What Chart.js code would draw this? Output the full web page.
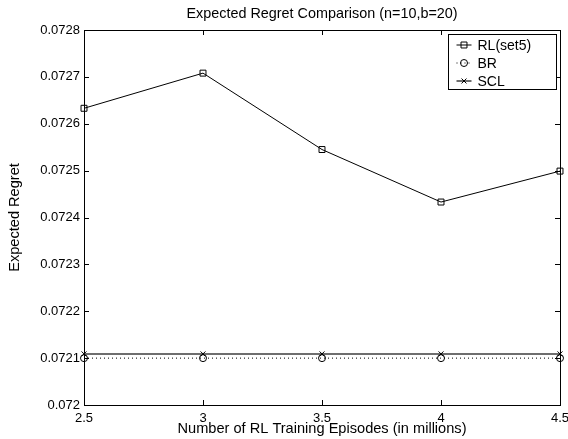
<!DOCTYPE html>
<html>
<head>
<meta charset="utf-8">
<script src="https://cdn.jsdelivr.net/npm/chart.js@4/dist/chart.umd.min.js"></script>
<style>
  html, body { margin: 0; padding: 0; background: #fff; }
  #chart { display: block; }
</style>
</head>
<body>
<canvas id="chart" width="568" height="439"></canvas>
<script>
// Data
const episodes = [2.5, 3, 3.5, 4, 4.5];
const rlSet5 = [0.072633, 0.072708, 0.072545, 0.072433, 0.072499];
const brValues = [0.07210, 0.07210, 0.07210, 0.07210, 0.07210];
const sclValues = [0.072109, 0.072109, 0.072109, 0.072109, 0.072109];
const seriesLabels = ['RL(set5)', 'BR', 'SCL'];

const FONT = '"Liberation Sans", Arial, Helvetica, sans-serif';

function toPoints(values) {
  return episodes.map((x, i) => ({ x: x, y: values[i] }));
}

// Title centred over the plot area
const titlePlugin = {
  id: 'plotTitle',
  afterDraw(chart) {
    const { ctx, chartArea } = chart;
    ctx.save();
    ctx.fillStyle = '#000';
    ctx.font = '14.4px ' + FONT;
    ctx.textAlign = 'center';
    ctx.textBaseline = 'middle';
    ctx.fillText('Expected Regret Comparison (n=10,b=20)', (chartArea.left + chartArea.right) / 2, 14);
    ctx.restore();
  }
};

// Box around the axes with inward tick marks
const boxPlugin = {
  id: 'matlabBox',
  beforeDatasetsDraw(chart) {
    const { ctx, chartArea: a, scales } = chart;
    const len = 5;
    ctx.save();
    ctx.strokeStyle = '#000';
    ctx.lineWidth = 1;
    ctx.beginPath();
    scales.x.ticks.forEach(t => {
      const px = Math.round(scales.x.getPixelForValue(t.value)) + 0.5;
      ctx.moveTo(px, a.bottom); ctx.lineTo(px, a.bottom - len);
      ctx.moveTo(px, a.top); ctx.lineTo(px, a.top + len);
    });
    scales.y.ticks.forEach(t => {
      const py = Math.round(scales.y.getPixelForValue(t.value)) + 0.5;
      ctx.moveTo(a.left, py); ctx.lineTo(a.left + len, py);
      ctx.moveTo(a.right, py); ctx.lineTo(a.right - len, py);
    });
    ctx.stroke();
    ctx.strokeRect(Math.round(a.left) + 0.5, Math.round(a.top) + 0.5,
      Math.round(a.right - a.left), Math.round(a.bottom - a.top));
    ctx.restore();
  }
};

// Legend inside the upper right corner
const legendPlugin = {
  id: 'insideLegend',
  afterDraw(chart) {
    const { ctx, chartArea: a } = chart;
    const w = 108, h = 55;
    const x0 = Math.round(a.right) - 112 + 0.5, y0 = Math.round(a.top) + 4 + 0.5;
    ctx.save();
    ctx.fillStyle = '#fff';
    ctx.fillRect(x0, y0, w, h);
    ctx.strokeStyle = '#000';
    ctx.lineWidth = 1;
    ctx.strokeRect(x0, y0, w, h);
    chart.data.datasets.forEach((ds, i) => {
      const cy = y0 + 10.5 + i * 18;
      ctx.save();
      ctx.strokeStyle = ds.borderColor;
      ctx.lineWidth = ds.borderWidth;
      ctx.setLineDash(ds.borderDash || []);
      ctx.beginPath();
      ctx.moveTo(x0 + 8, cy);
      ctx.lineTo(x0 + 23, cy);
      ctx.stroke();
      ctx.restore();
      ctx.strokeStyle = '#000';
      ctx.fillStyle = 'rgba(0,0,0,0)';
      ctx.lineWidth = 1;
      Chart.helpers.drawPoint(ctx, {
        pointStyle: ds.pointStyle, radius: ds.pointRadius, rotation: 0, borderWidth: 1
      }, x0 + 15.5, cy);
      ctx.fillStyle = '#000';
      ctx.font = '14px ' + FONT;
      ctx.textAlign = 'left';
      ctx.textBaseline = 'middle';
      ctx.fillText(ds.label, x0 + 29, cy + 1);
    });
    ctx.restore();
  }
};

new Chart(document.getElementById('chart'), {
  type: 'line',
  data: {
    datasets: [
      {
        label: seriesLabels[0],
        data: toPoints(rlSet5),
        borderColor: '#000',
        borderWidth: 1,
        pointStyle: 'rect',
        pointRadius: 4.2,
        pointBorderColor: '#000',
        pointBackgroundColor: 'rgba(0,0,0,0)',
        pointBorderWidth: 1
      },
      {
        label: seriesLabels[1],
        data: toPoints(brValues),
        borderColor: '#000',
        borderWidth: 1,
        borderDash: [1, 3],
        pointStyle: 'circle',
        pointRadius: 3.5,
        pointBorderColor: '#000',
        pointBackgroundColor: 'rgba(0,0,0,0)',
        pointBorderWidth: 1
      },
      {
        label: seriesLabels[2],
        data: toPoints(sclValues),
        borderColor: '#6e6e6e',
        borderWidth: 2,
        pointStyle: 'crossRot',
        pointRadius: 3.5,
        pointBorderColor: '#000',
        pointBorderWidth: 1
      }
    ]
  },
  options: {
    responsive: false,
    animation: false,
    clip: false,
    layout: { padding: { left: 0, right: 0, top: 30, bottom: 0 } },
    elements: { line: { tension: 0 } },
    plugins: {
      legend: { display: false },
      tooltip: { enabled: false },
      title: { display: false }
    },
    scales: {
      x: {
        type: 'linear',
        min: 2.5,
        max: 4.5,
        grid: { display: false, drawTicks: false },
        border: { display: false },
        ticks: {
          stepSize: 0.5,
          padding: 6,
          maxRotation: 0,
          color: '#000',
          font: { family: FONT, size: 13 },
          callback: v => String(v)
        },
        title: {
          display: true,
          text: 'Number of RL Training Episodes (in millions)',
          color: '#000',
          font: { family: FONT, size: 14.6 },
          padding: { top: 0, bottom: 1 }
        },
        afterFit: scale => {
          scale.height = 34;
          scale.paddingLeft = 0;
          scale.paddingRight = 8;
        }
      },
      y: {
        min: 0.072,
        max: 0.0728,
        grid: { display: false, drawTicks: false },
        border: { display: false },
        ticks: {
          stepSize: 0.0001,
          padding: 4,
          color: '#000',
          font: { family: FONT, size: 13 },
          callback: v => String(Number(v.toFixed(4)))
        },
        title: {
          display: true,
          text: 'Expected Regret',
          color: '#000',
          font: { family: FONT, size: 14.6 },
          padding: { top: 6.5, bottom: 0 }
        },
        afterFit: scale => {
          scale.width = 84;
          scale.paddingTop = 0;
          scale.paddingBottom = 0;
        }
      }
    }
  },
  plugins: [titlePlugin, boxPlugin, legendPlugin]
});
</script>
</body>
</html>
